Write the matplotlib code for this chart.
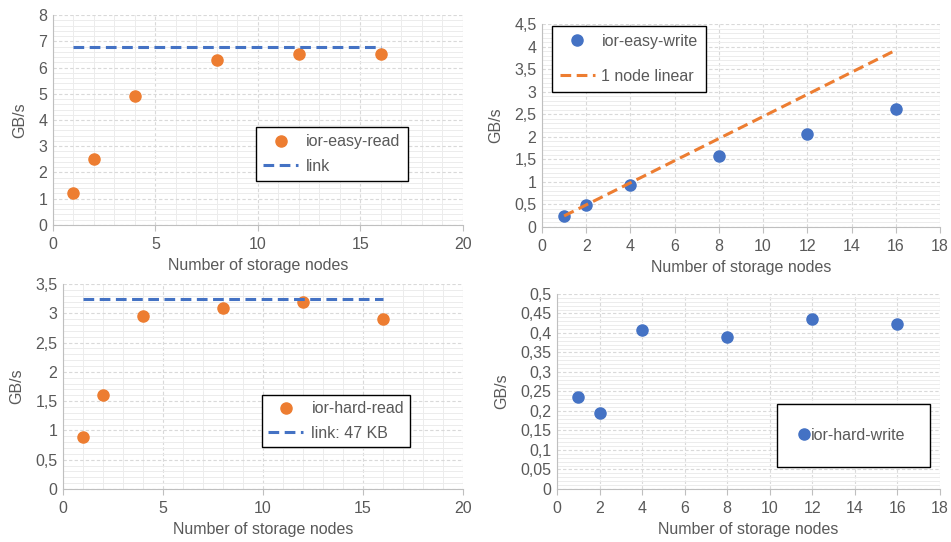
import numpy as np
import matplotlib
matplotlib.use('Agg')
import matplotlib.pyplot as plt
from matplotlib.ticker import MultipleLocator, FuncFormatter

plt.rcParams['font.family'] = ['Liberation Sans', 'DejaVu Sans']
plt.rcParams['font.size'] = 11.5

# --- data ---
nodes = [1, 2, 4, 8, 12, 16]
easy_read = [1.2, 2.5, 4.9, 6.3, 6.5, 6.5]
easy_read_link = [6.8, 6.8]
easy_write = [0.25, 0.49, 0.93, 1.58, 2.07, 2.61]
easy_write_linear = [0.245, 3.92]
hard_read = [0.88, 1.61, 2.95, 3.09, 3.19, 2.91]
hard_read_link = [3.25, 3.25]
hard_write = [0.236, 0.194, 0.407, 0.390, 0.436, 0.424]
line_x = [1, 16]

ORANGE = '#ED7D31'
BLUE = '#4472C4'
TXT = '#595959'
FS = 11.5

comma = FuncFormatter(lambda v, p: ('%g' % round(v, 4)).replace('.', ','))


def style(ax, xmax, xmaj, xmin, ymax, ymaj, ymin):
    ax.set_xlim(0, xmax)
    ax.set_ylim(0, ymax)
    ax.xaxis.set_major_locator(MultipleLocator(xmaj))
    ax.yaxis.set_major_locator(MultipleLocator(ymaj))
    if xmin:
        ax.xaxis.set_minor_locator(MultipleLocator(xmin))
    ax.yaxis.set_minor_locator(MultipleLocator(ymin))
    ax.xaxis.set_major_formatter(comma)
    ax.yaxis.set_major_formatter(comma)
    ax.grid(which='major', color='#d9d9d9', linestyle=(0, (3, 2)), linewidth=0.8)
    ax.grid(which='minor', color='#ececec', linestyle='-', linewidth=0.7)
    ax.set_axisbelow(True)
    for s in ['top', 'right']:
        ax.spines[s].set_visible(False)
    for s in ['left', 'bottom']:
        ax.spines[s].set_color('#bfbfbf')
    ax.tick_params(which='both', length=0, colors=TXT, labelsize=FS, pad=4)
    ax.tick_params(axis='x', which='major', length=4, color='#bfbfbf', pad=5)
    ax.set_xlabel('Number of storage nodes', color=TXT, fontsize=FS, labelpad=4)
    ax.set_ylabel('GB/s', color=TXT, fontsize=FS, labelpad=8)


fig = plt.figure(figsize=(9.51, 5.42), dpi=100)
ax1 = fig.add_axes([0.0557, 0.5849, 0.4311, 0.3874])
ax2 = fig.add_axes([0.5699, 0.5812, 0.4185, 0.3745])
ax3 = fig.add_axes([0.0662, 0.0978, 0.4206, 0.3782])
ax4 = fig.add_axes([0.5857, 0.0978, 0.4027, 0.3598])

dash = (0, (3.5, 1.8))
leg_kw = dict(fancybox=False, edgecolor='black', framealpha=1, fontsize=FS,
              labelcolor=TXT, borderaxespad=0, loc='upper left')

# top left
style(ax1, 20, 5, 1, 8, 1, 0.2)
ax1.plot(nodes, easy_read, 'o', color=ORANGE, markersize=8, label='ior-easy-read')
ax1.plot(line_x, easy_read_link, color=BLUE, lw=2.2, linestyle=dash, label='link')
lg = ax1.legend(bbox_to_anchor=(0.495, 0.467), labelspacing=0.6,
                handlelength=2.2, handletextpad=0.5, borderpad=0.45, **leg_kw)
lg.get_frame().set_linewidth(1.0)

# top right
style(ax2, 18, 2, None, 4.5, 0.5, 0.1)
ax2.plot(nodes, easy_write, 'o', color=BLUE, markersize=8, label='ior-easy-write')
ax2.plot(line_x, easy_write_linear, color=ORANGE, lw=2.2, linestyle=dash,
         label='1 node linear')
lg = ax2.legend(bbox_to_anchor=(0.025, 0.99), labelspacing=1.25,
                handlelength=2.2, handletextpad=0.4, borderpad=0.5, **leg_kw)
lg.get_frame().set_linewidth(1.0)

# bottom left
style(ax3, 20, 5, 1, 3.5, 0.5, 0.1)
ax3.plot(nodes, hard_read, 'o', color=ORANGE, markersize=8, label='ior-hard-read')
ax3.plot(line_x, hard_read_link, color=BLUE, lw=2.2, linestyle=dash, label='link: 47 KB')
lg = ax3.legend(bbox_to_anchor=(0.4975, 0.4585), labelspacing=0.6,
                handlelength=2.2, handletextpad=0.5, borderpad=0.4, **leg_kw)
lg.get_frame().set_linewidth(1.0)

# bottom right
style(ax4, 18, 2, None, 0.5, 0.05, 0.01)
ax4.plot(nodes, hard_write, 'o', color=BLUE, markersize=8, label='ior-hard-write')
lg = ax4.legend(bbox_to_anchor=(0.574, 0.436), handlelength=0.4,
                handletextpad=0.25, borderpad=1.5, **leg_kw)
lg.get_frame().set_linewidth(1.0)

plt.savefig('out.png', dpi=100)
